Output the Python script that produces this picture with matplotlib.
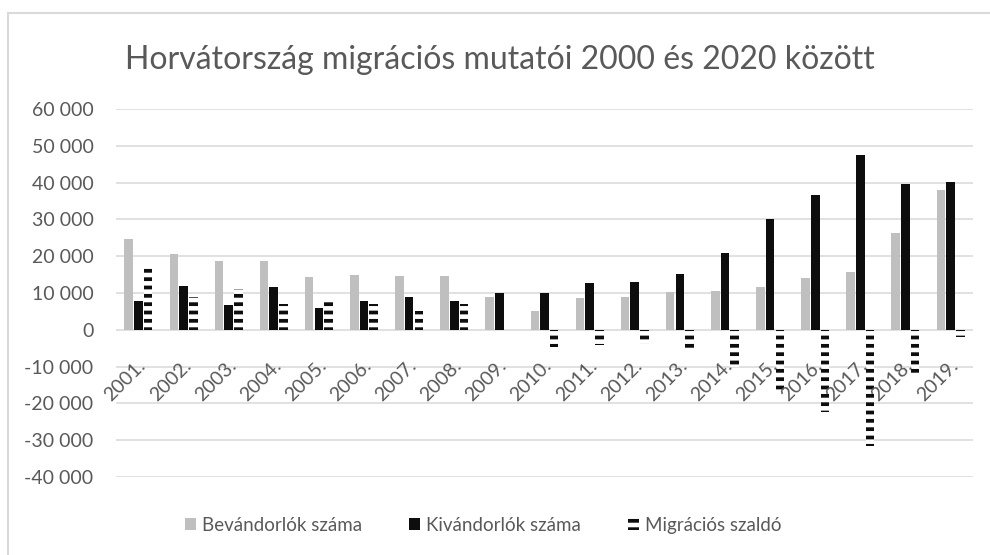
import matplotlib

matplotlib.use("Agg")

import matplotlib.pyplot as plt
import numpy as np
from matplotlib.lines import Line2D
from matplotlib.ticker import FuncFormatter, MultipleLocator

TEXT = "#595959"
GRID = "#d9d9d9"
GRAY = "#bfbfbf"
BLACK = "#0d0d0d"

years = [f"{y}." for y in range(2001, 2020)]
immigrants = [24600, 20650, 18650, 18650, 14300, 14950, 14650, 14650, 8800, 5000,
              8700, 8950, 10250, 10600, 11700, 14050, 15650, 26250, 37950]
emigrants = [7700, 11950, 6700, 11700, 6050, 7700, 9050, 7700, 9950, 9950,
             12700, 12950, 15300, 20900, 30000, 36600, 47550, 39550, 40200]
net = [17000, 8800, 11100, 7050, 8400, 7050, 5000, 7050, 0, -4800,
       -4000, -3900, -5000, -10150, -16750, -22450, -31500, -12700, -2000]

plt.rcParams["font.family"] = ["Lato", "DejaVu Sans"]
plt.rcParams["hatch.linewidth"] = 2.7

fig = plt.figure(figsize=(9.9, 5.55), dpi=100)
ax = fig.add_axes([0.117, 0.1405, 0.866, 0.6631])

x = np.arange(len(years))
w = 0.19
ax.bar(x - 0.215, immigrants, w, color=GRAY, lw=0, label="Bevándorlók száma", zorder=3)
ax.bar(x, emigrants, w, color=BLACK, lw=0, label="Kivándorlók száma", zorder=3)
ax.bar(x + 0.215, net, w, facecolor="white", edgecolor=BLACK, hatch="--", lw=0,
       label="Migrációs szaldó", zorder=3)

ax.set_xlim(-0.5, len(years) - 0.5)
ax.set_ylim(-40000, 60000)
ax.yaxis.set_major_locator(MultipleLocator(10000))
ax.yaxis.set_major_formatter(
    FuncFormatter(lambda v, _: f"{int(v):,}".replace(",", " ")))
ax.grid(axis="y", color=GRID, lw=1.1, zorder=0)
ax.set_axisbelow(True)
for s in ax.spines.values():
    s.set_visible(False)
ax.tick_params(axis="y", length=0, pad=16, labelsize=14, labelcolor=TEXT)
ax.set_xticks([])

for i, lab in enumerate(years):
    ax.annotate(lab, xy=(i + 0.1, 0), xytext=(0, -24), textcoords="offset points",
                rotation=45, rotation_mode="anchor", ha="right", va="center",
                fontsize=14, color=TEXT)

fig.text(0.505, 0.892, "Horvátország migrációs mutatói 2000 és 2020 között",
         ha="center", va="center", fontsize=23, color=TEXT)

leg = fig.legend(loc="center", bbox_to_anchor=(0.488, 0.054), ncol=3, frameon=False,
                 fontsize=13.5, handlelength=0.6, handleheight=0.6, handletextpad=0.3,
                 columnspacing=2.5, labelcolor=TEXT)

# chart border (left and top edges visible in the reference crop)
fig.add_artist(Line2D([0.008, 0.008], [0.0, 0.977], color=GRID, lw=1.5))
fig.add_artist(Line2D([0.008, 1.0], [0.977, 0.977], color=GRID, lw=1.5))

fig.savefig("out.png")
